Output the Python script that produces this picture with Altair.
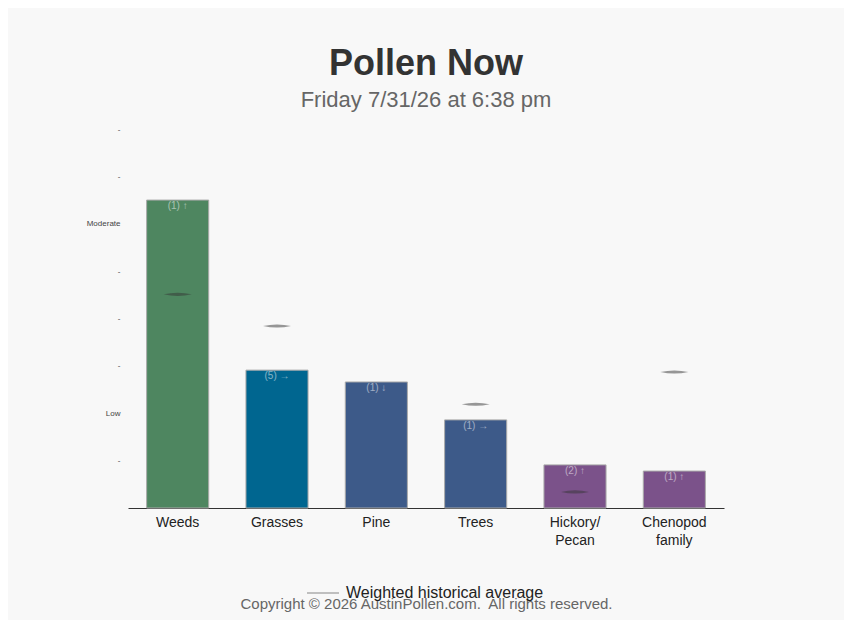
import altair as alt
import pandas as pd

categories = ["Weeds", "Grasses", "Pine", "Trees", "Hickory/\nPecan", "Chenopod\nfamily"]
levels = [6.5, 2.91, 2.66, 1.86, 0.91, 0.78]
count_labels = ["(1) ↑", "(5) →", "(1) ↓", "(1) →", "(2) ↑", "(1) ↑"]
hist_avg = [4.51, 3.84, None, 2.19, 0.34, 2.87]
bar_colors = ["#4e8660", "#006690", "#3d5a89", "#3d5a89", "#7b528a", "#7b528a"]
y_ticks = [1, 2, 3, 4, 5, 6, 7, 8]

FONT = "Liberation Sans"

df = pd.DataFrame({"cat": categories, "level": levels, "lab": count_labels})
hist_df = pd.DataFrame({"cat": categories, "avg": hist_avg}).dropna()
hist_df["series"] = "Weighted historical average"

label_expr = "datum.value == 2 ? 'Low' : datum.value == 6 ? 'Moderate' : '-'"

x_enc = alt.X(
    "cat:N",
    sort=categories,
    scale=alt.Scale(paddingInner=0.375, paddingOuter=0.1875),
    axis=alt.Axis(
        title="Copyright © 2026 AustinPollen.com.\u00a0 All rights reserved.",
        labelAngle=0,
        labelExpr="split(datum.label, '\\n')",
        labelFontSize=14,
        labelColor="#222",
        labelFont=FONT,
        labelLineHeight=18,
        labelPadding=7,
        ticks=False,
        domainColor="#333",
        domainWidth=1,
        titleFont=FONT,
        titleFontSize=15,
        titleFontWeight="normal",
        titleColor="#666",
        titleY=95,
        titleBaseline="middle",
    ),
)
y_scale = alt.Scale(domain=[0, 8], nice=False)

bars = alt.Chart(df).mark_bar(stroke="#aaaaaa", strokeWidth=1).encode(
    x=x_enc,
    y=alt.Y(
        "level:Q",
        scale=y_scale,
        axis=alt.Axis(
            title="",
            values=y_ticks,
            labelExpr=label_expr,
            labelFontSize=8,
            labelColor="#444",
            labelFont=FONT,
            labelPadding=8,
            ticks=False,
            domain=False,
            grid=False,
        ),
    ),
    color=alt.Color("cat:N", scale=alt.Scale(domain=categories, range=bar_colors), legend=None),
)

texts = alt.Chart(df).mark_text(
    baseline="top", dy=1, fontSize=10, font=FONT, color="white", opacity=0.5
).encode(
    x=alt.X("cat:N", sort=categories),
    y=alt.Y("level:Q", scale=y_scale),
    text="lab:N",
)

lens = "M -1 0 Q 0 -0.22 1 0 Q 0 0.22 -1 0 Z"
hist = alt.Chart(hist_df).mark_point(shape=lens, size=784, filled=True, opacity=0.5).encode(
    x=alt.X("cat:N", sort=categories),
    y=alt.Y("avg:Q", scale=y_scale),
    fill=alt.Fill(
        "series:N",
        scale=alt.Scale(range=["#333333"]),
        legend=alt.Legend(
            title=None,
            orient="none",
            legendX=178,
            legendY=447,
            symbolType="stroke",
            symbolStrokeColor="#888888",
            symbolStrokeWidth=2,
            symbolSize=1024,
            labelFontSize=16,
            labelFont=FONT,
            labelColor="#222",
            labelOffset=6,
            labelLimit=0,
        ),
    ),
)

chart = (
    alt.layer(bars, texts, hist)
    .properties(
        width=596,
        height=379,
        padding={"left": 120, "top": 121, "right": 120, "bottom": 112},
        autosize=alt.AutoSizeParams(type="none"),
        background="#f8f8f8",
        title=alt.Title(
            "Pollen Now",
            subtitle="Friday 7/31/26 at 6:38 pm",
            anchor="middle",
            font=FONT,
            fontSize=36,
            fontWeight="bold",
            color="#333",
            subtitleFont=FONT,
            subtitleFontSize=22,
            subtitleColor="#666",
            subtitlePadding=7,
            offset=13,
        ),
    )
    .configure_view(stroke=None)
)

chart.save("out.html", embed_options={"renderer": "svg", "actions": False})
